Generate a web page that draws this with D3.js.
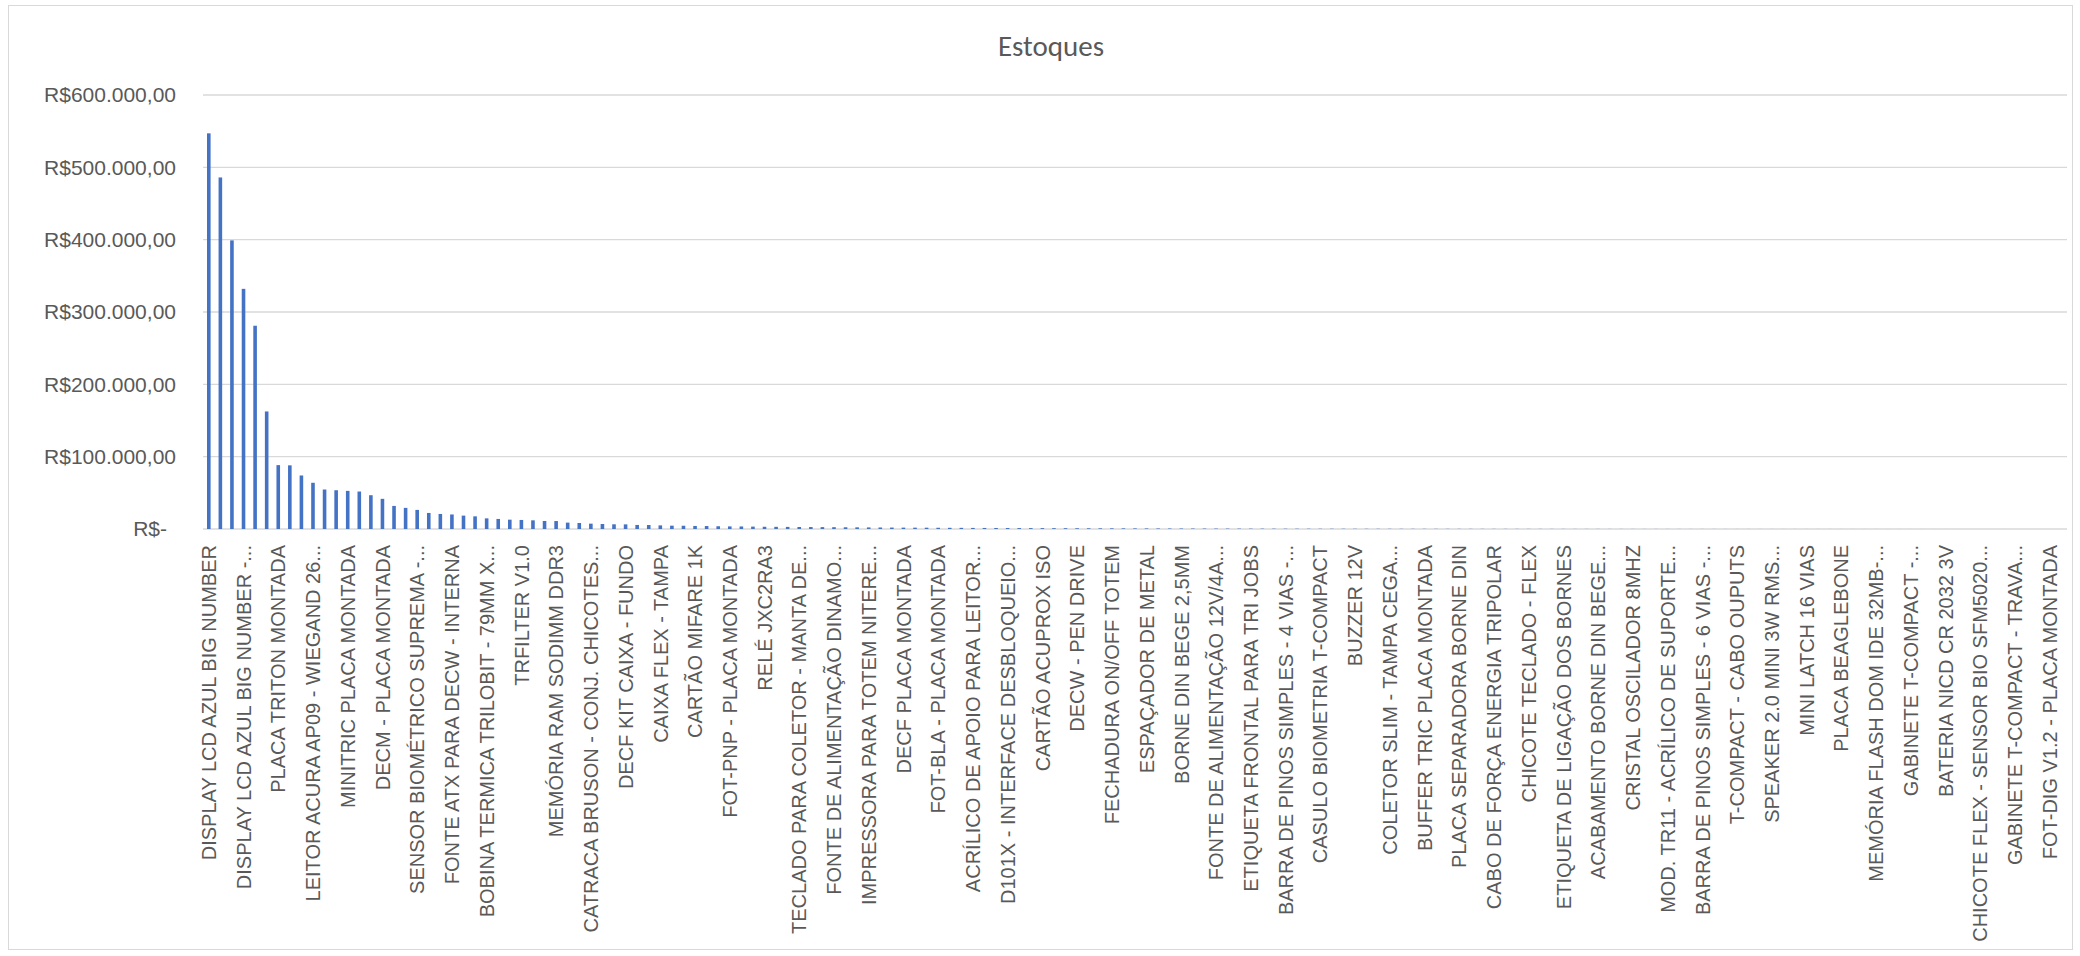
<!DOCTYPE html>
<html>
<head>
<meta charset="utf-8">
<script src="https://cdn.jsdelivr.net/npm/d3@7"></script>
<style>
  body { margin: 0; background: #fff; }
  svg { display: block; font-family: Calibri, Carlito, Lato, sans-serif; }
</style>
</head>
<body>
<div id="chart"></div>
<script>
// labels shown under the axis (Excel only draws every 3rd category)
const labels = [
  "DISPLAY LCD AZUL BIG NUMBER", "DISPLAY LCD AZUL BIG NUMBER -...", "PLACA TRITON MONTADA",
  "LEITOR ACURA AP09 - WIEGAND 26...", "MINITRIC PLACA MONTADA", "DECM - PLACA MONTADA",
  "SENSOR BIOMÉTRICO SUPREMA -...", "FONTE ATX PARA DECW - INTERNA", "BOBINA TERMICA TRILOBIT - 79MM X...",
  "TRFILTER V1.0", "MEMÓRIA RAM SODIMM DDR3", "CATRACA BRUSON - CONJ. CHICOTES...",
  "DECF KIT CAIXA - FUNDO", "CAIXA FLEX - TAMPA", "CARTÃO MIFARE 1K",
  "FOT-PNP - PLACA MONTADA", "RELÉ JXC2RA3", "TECLADO PARA COLETOR - MANTA DE...",
  "FONTE DE ALIMENTAÇÃO DINAMO...", "IMPRESSORA PARA TOTEM NITERE...", "DECF PLACA MONTADA",
  "FOT-BLA - PLACA MONTADA", "ACRÍLICO DE APOIO PARA LEITOR...", "D101X - INTERFACE DESBLOQUEIO...",
  "CARTÃO ACUPROX ISO", "DECW - PEN DRIVE", "FECHADURA ON/OFF TOTEM",
  "ESPAÇADOR DE METAL", "BORNE DIN BEGE 2,5MM", "FONTE DE ALIMENTAÇÃO 12V/4A...",
  "ETIQUETA FRONTAL PARA TRI JOBS", "BARRA DE PINOS SIMPLES - 4 VIAS -...", "CASULO BIOMETRIA T-COMPACT",
  "BUZZER 12V", "COLETOR SLIM - TAMPA CEGA...", "BUFFER TRIC PLACA MONTADA",
  "PLACA SEPARADORA BORNE DIN", "CABO DE FORÇA ENERGIA TRIPOLAR", "CHICOTE TECLADO - FLEX",
  "ETIQUETA DE LIGAÇÃO DOS BORNES", "ACABAMENTO BORNE DIN BEGE...", "CRISTAL OSCILADOR 8MHZ",
  "MOD. TR11 - ACRÍLICO DE SUPORTE...", "BARRA DE PINOS SIMPLES - 6 VIAS -...", "T-COMPACT - CABO OUPUTS",
  "SPEAKER 2.0 MINI 3W RMS...", "MINI LATCH 16 VIAS", "PLACA BEAGLEBONE",
  "MEMÓRIA FLASH DOM IDE 32MB-...", "GABINETE T-COMPACT -...", "BATERIA NICD CR 2032 3V",
  "CHICOTE FLEX - SENSOR BIO SFM5020...", "GABINETE T-COMPACT - TRAVA...", "FOT-DIG V1.2 - PLACA MONTADA"
];

// stock value per item (R$), sorted descending
const values = [
  547000, 486000, 399000, 332000, 281000, 162500, 88300, 88000, 74000, 63900,
  54600, 53600, 52700, 51800, 46700, 41700, 31900, 29200, 26400, 22200,
  20800, 20100, 18500, 17500, 14700, 13900, 12900, 12500, 12000, 11100,
  11000, 8800, 8300, 7400, 6900, 6500, 6400, 5600, 5500, 5000,
  4600, 4500, 4200, 4100, 3800, 3600, 3500, 3300, 3100, 3000,
  2900, 2800, 2700, 2600, 2500, 2400, 2300, 2200, 2100, 2000,
  1900, 1850, 1800, 1700, 1650, 1600, 1500, 1450, 1400, 1350,
  1300, 1250, 1200, 1150, 1100, 1050, 1000, 960, 920, 880,
  840, 800, 760, 720, 690, 660, 630, 600, 570, 540,
  515, 490, 470, 450, 430, 410, 390, 375, 360, 345,
  330, 315, 300, 290, 280, 270, 260, 250, 240, 230,
  220, 210, 200, 192, 184, 176, 168, 160, 152, 145,
  138, 131, 125, 119, 113, 107, 101, 96, 91, 86,
  81, 76, 72, 68, 64, 60, 56, 52, 49, 46,
  43, 40, 37, 34, 31, 28, 26, 24, 22, 20,
  18, 16, 14, 12, 10, 9, 8, 7, 6, 5,
  4
];

const yTicks = [0, 100000, 200000, 300000, 400000, 500000, 600000];

const width = 2080, height = 956;
const plot = { left: 203, right: 2067, top: 95, bottom: 529 };
const textColor = "#595959", gridColor = "#d9d9d9", barColor = "#4472c4";

const brl = d3.formatLocale({ decimal: ",", thousands: ".", grouping: [3], currency: ["R$", ""] });
const money = brl.format("$,.2f");

const svg = d3.select("#chart").append("svg")
    .attr("width", width)
    .attr("height", height);

svg.append("rect")
    .attr("x", 8.5).attr("y", 5.5)
    .attr("width", 2064).attr("height", 944)
    .attr("fill", "#fff")
    .attr("stroke", gridColor);

const x = d3.scaleBand()
    .domain(d3.range(values.length))
    .range([plot.left, plot.right])
    .paddingInner(0.69)
    .paddingOuter(0.345);

const y = d3.scaleLinear()
    .domain([0, 600000])
    .range([plot.bottom, plot.top]);

// gridlines
svg.append("g")
    .selectAll("line")
    .data(yTicks)
    .join("line")
    .attr("x1", plot.left).attr("x2", plot.right)
    .attr("y1", d => y(d)).attr("y2", d => y(d))
    .attr("stroke", gridColor)
    .attr("stroke-width", 1.3);

// y axis labels
const yAxis = svg.append("g")
    .attr("transform", `translate(176,0)`)
    .call(d3.axisLeft(y).tickValues(yTicks).tickSize(0).tickPadding(0)
        .tickFormat(d => d === 0 ? "R$-" : money(d)));
yAxis.select(".domain").remove();
yAxis.selectAll("text")
    .attr("fill", textColor)
    .attr("dx", d => d === 0 ? -9 : 0)
    .style("font-size", "21px");

// bars
svg.append("g")
    .attr("fill", barColor)
    .selectAll("rect")
    .data(values)
    .join("rect")
    .attr("x", (d, i) => x(i))
    .attr("width", x.bandwidth())
    .attr("y", d => y(d))
    .attr("height", d => y(0) - y(d));

// category labels, every 3rd item
const xAxis = svg.append("g")
    .attr("transform", `translate(0,${plot.bottom})`)
    .call(d3.axisBottom(x)
        .tickValues(d3.range(0, labels.length * 3, 3))
        .tickSize(0)
        .tickFormat(i => labels[i / 3]));
xAxis.select(".domain").remove();
xAxis.selectAll("text")
    .attr("transform", "rotate(-90)")
    .attr("text-anchor", "end")
    .attr("x", -16)
    .attr("y", 0)
    .attr("dy", "0.36em")
    .attr("fill", textColor)
    .style("font-size", "20px");

// title
svg.append("text")
    .attr("x", (plot.left + plot.right) / 2 - 84)
    .attr("y", 56)
    .attr("text-anchor", "middle")
    .attr("fill", textColor)
    .style("font-size", "29px")
    .text("Estoques");
</script>
</body>
</html>
